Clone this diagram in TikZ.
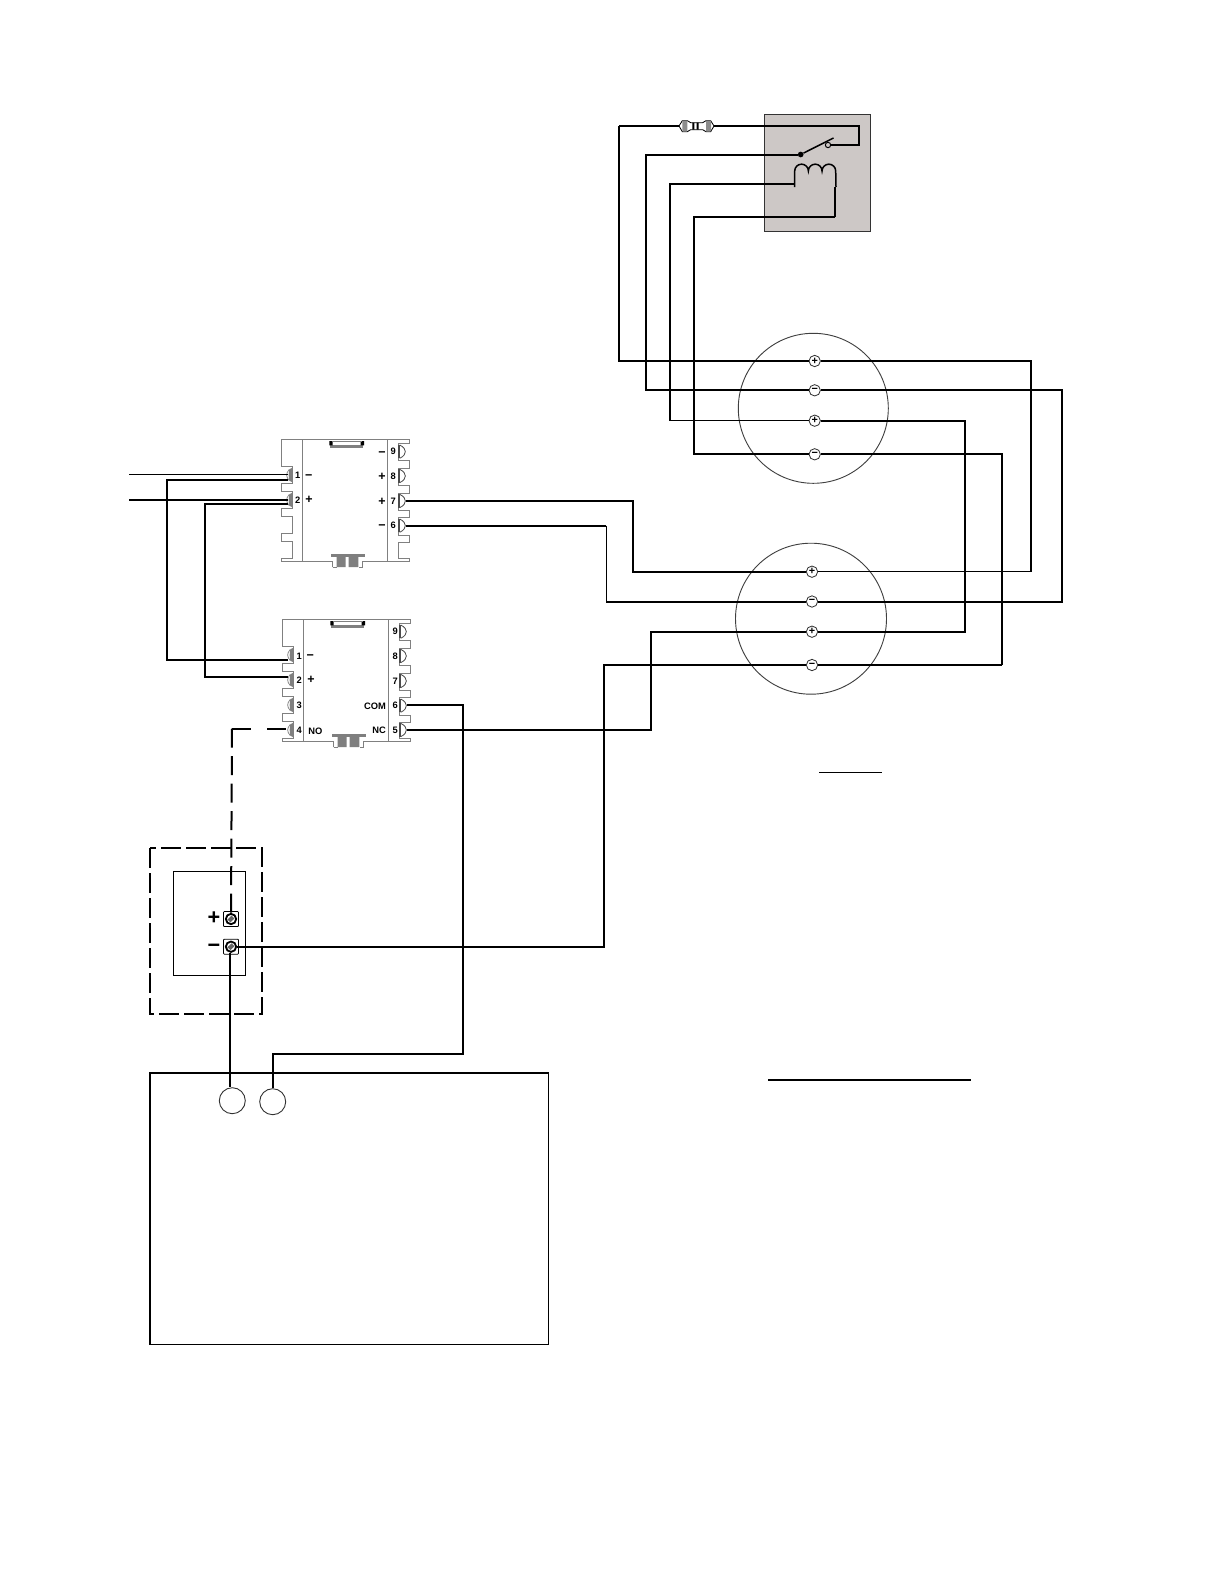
\documentclass[tikz,border=0pt]{standalone}
\usepackage{fontspec}
\setmainfont{Liberation Sans}
\usetikzlibrary{calc}
\definecolor{relayfill}{HTML}{CDC8C6}
\definecolor{blockline}{HTML}{808080}
\definecolor{blockgray}{HTML}{7F7F7F}
\tikzset{
  wire/.style={line width=1.2pt,line cap=butt,line join=miter},
  thinwire/.style={line width=0.65pt,line join=miter},
  dashwire/.style={line width=1.2pt,dash pattern=on 11.4pt off 5.1pt},
  dashgap/.style={line width=1.2pt,dash pattern=on 11.4pt off 9.6pt},
  dashbox/.style={line width=1.2pt,dash pattern=on 12pt off 3pt},
  bigdisc/.style={circle,draw=black!75,line width=0.55pt,minimum size=90pt,inner sep=0pt},
  termdisc/.style={circle,draw=black!80,fill=white,line width=0.5pt,minimum size=6.8pt,inner sep=0pt,font=\fontsize{6.5}{7}\selectfont\bfseries},
  gaugedisc/.style={circle,draw=black!80,line width=0.55pt,minimum size=15.6pt,inner sep=0pt},
  screwnode/.style={circle,draw=black,fill=white,line width=1.1pt,minimum size=6.2pt,inner sep=0pt},
  blk/.style={draw=blockline,line width=0.55pt,line join=miter},
  numlab/.style={inner sep=0pt,font=\fontsize{5.6}{6}\selectfont\bfseries},
  signlab/.style={inner sep=0pt,font=\fontsize{7.5}{8}\selectfont\bfseries},
  biglab/.style={inner sep=0pt,font=\fontsize{13}{14}\selectfont\bfseries},
}
\newcommand{\rightterm}[1]{%
    \draw[black!70,line width=0.5pt] (415,#1-20) -- (415,#1+20) (419,#1-20) -- (419,#1+20);
    \draw[black!70,line width=0.5pt] (419,#1-20) .. controls (432,#1-14) and (436,#1-6) .. (436,#1)
       .. controls (436,#1+6) and (432,#1+14) .. (419,#1+20);
}
% block body in 3x zoom units
\newcommand{\blockbody}{%
  \draw[blk] (65,28) -- (448,28)
    -- (448,40) -- (415,40) -- (415,90) -- (448,90) -- (448,115) -- (415,115)
    -- (415,165) -- (448,165) -- (448,190) -- (415,190) -- (415,240) -- (448,240)
    -- (448,262) -- (415,262) -- (415,315) -- (448,315) -- (448,338) -- (415,338)
    -- (415,385) -- (448,385) -- (448,395) -- (308,395) -- (308,412) -- (296,412)
    (218,412) -- (218,395) -- (65,395) -- (65,385) -- (97,385) -- (97,335) -- (65,335)
    -- (65,310) -- (97,310) -- (97,260) -- (65,260) -- (65,235) -- (97,235) -- (97,185)
    -- (65,185) -- (65,160) -- (97,160) -- (97,110) -- (65,110) -- (65,28);
  \draw[blk] (127,28) -- (127,395) (382,28) -- (382,395);
  % top clip
  \fill[blockgray] (210,46) rectangle (310,53);
  \fill[black] (208,33) rectangle (218,46) (302,33) rectangle (312,46);
  \draw[blk] (215,33) -- (305,33);
  % bottom clip
  \fill[blockgray] (212,373) rectangle (314,381);
  \fill[blockgray] (230,381) rectangle (257,411) (266,381) rectangle (295,411);
  \draw[blk] (218,412) -- (230,412);
  % right terminals
  \rightterm{65}\rightterm{138}\rightterm{213}\rightterm{287}
}
\newcommand{\leftterm}[1]{%
  \fill[blockgray] (97,#1-22) -- (88,#1-17) -- (86,#1) -- (88,#1+17) -- (97,#1+22) -- cycle;
  \draw[black!50,line width=0.45pt] (88,#1-17) .. controls (82,#1-10) and (80,#1-5) .. (80,#1)
     .. controls (80,#1+5) and (82,#1+10) .. (88,#1+17);
}
\newcommand{\screw}[1]{%
  \draw[black,line width=0.5pt,rounded corners=0.5pt,fill=white] ($(#1)+(-7.5,-7.5)$) rectangle ($(#1)+(7.5,7.5)$);
}
\newcommand{\lowminus}{\raisebox{-0.5pt}{−}}
\begin{document}
\begin{tikzpicture}[x=0.6pt,y=-0.6pt]
\useasboundingbox (0,0) rectangle (1224,1584);
\fill[white] (0,0) rectangle (1224,1584);

% ---- relay
\draw[fill=relayfill,draw=black!80,line width=0.6pt] (764.3,114) rectangle (870.7,231.7);
\draw[line width=0.9pt] (794.7,187) -- (794.7,171) arc[start angle=180,end angle=0,radius=4.1pt]
   arc[start angle=180,end angle=0,radius=4.1pt] arc[start angle=180,end angle=0,radius=4.1pt] -- (836,187);
\coordinate (coilL) at (794.7,184);
\coordinate (coilR) at (835,216.7);
\draw[thinwire] (835,187) -- (coilR);
\node[circle,fill=black,minimum size=3.4pt,inner sep=0pt] (swp) at (800.7,154.5) {};
\node[circle,draw=black,line width=0.6pt,minimum size=3.2pt,inner sep=0pt] (swc) at (828,145) {};
\coordinate (swtip) at (833.5,138);
\draw[line width=0.9pt] (swp) -- (swtip);

% ---- resistor
\node[minimum width=21pt,minimum height=8pt,inner sep=0pt] (res) at (696.5,126) {};
\coordinate (resLleadA) at (658,126);
\begin{scope}[shift={(600,100)},x=0.2pt,y=-0.2pt]
  \draw[line width=0.5pt,fill=white] (237,78) -- (247,62) -- (262,62) -- (272,68) -- (308,68) -- (318,62) -- (332,62) -- (342,78)
     -- (332,95) -- (318,95) -- (308,89) -- (272,89) -- (262,95) -- (247,95) -- cycle;
  \fill[black!45] (247,63) rectangle (262,94) (318,63) rectangle (333,94);
  \fill[black] (277,68) rectangle (283,89) (290,68) rectangle (296,89);
\end{scope}

% ---- gauges
\node[bigdisc] (c1) at (813.3,408.3) {};
\node[bigdisc,minimum size=90.6pt] (c2) at (811,618.7) {};

% ---- controllers
\begin{scope}[shift={(260,430)},x=0.2pt,y=-0.2pt]
  \blockbody
  \leftterm{135}\leftterm{210}
  \node[numlab] (aN1) at (113,136) {1};
  \node[numlab] (aN2) at (113,210) {2};
  \node[signlab] (aS1) at (146,140) {−};
  \node[signlab] (aS2) at (147,209) {+};
  \node[numlab] (aN9) at (400,65) {9};
  \node[numlab] (aN8) at (400,138) {8};
  \node[numlab] (aN7) at (400,213) {7};
  \node[numlab] (aN6) at (400,285) {6};
  \node[signlab] (aS9) at (366,71) {−};
  \node[signlab] (aS8) at (366,140) {+};
  \node[signlab] (aS7) at (366,215) {+};
  \node[signlab] (aS6) at (366,292) {−};
\end{scope}
\begin{scope}[shift={(261,610)},x=0.2pt,y=-0.2pt]
  \blockbody
  \rightterm{360}
  \leftterm{135}\leftterm{210}\leftterm{285}\leftterm{360}
  \node[numlab] (bN1) at (115,138) {1};
  \node[numlab] (bN2) at (115,212) {2};
  \node[numlab] (bN3) at (115,287) {3};
  \node[numlab] (bN4) at (115,362) {4};
  \node[signlab] (bS1) at (148,141) {−};
  \node[signlab] (bS2) at (150,210) {+};
  \node[numlab] (bNO) at (163,364) {NO};
  \node[numlab] (bN9) at (403,65) {9};
  \node[numlab] (bN8) at (403,138) {8};
  \node[numlab] (bN7) at (403,213) {7};
  \node[numlab] (bN6) at (403,287) {6};
  \node[numlab] (bN5) at (403,362) {5};
  \node[numlab] (bCOM) at (342,288) {COM};
  \node[numlab] (bNC) at (354,362) {NC};
\end{scope}

% terminal coordinates on the controllers
\coordinate (a1a) at (288,474.7);
\coordinate (a1b) at (288,480);
\coordinate (a2a) at (288,500);
\coordinate (a2b) at (288,504);
\coordinate (a7) at (405.7,501);
\coordinate (a6) at (405.7,525.7);
\coordinate (b1) at (288,660);
\coordinate (b2) at (288,677);
\coordinate (b4) at (288,728.5);
\coordinate (b6) at (406.7,704.7);
\coordinate (b5) at (406.7,729.5);
\coordinate (in1) at (129,474.7);
\coordinate (in2) at (129,500);

% ---- sensor box
\draw[dashbox] (149.7,848) rectangle (262,1013.7);
\draw[line width=0.6pt] (173.7,871.3) rectangle (245.7,975);
\coordinate (sp) at (231,919);
\coordinate (sm) at (231,946.7);
\screw{sp}\screw{sm}
\node[screwnode] (smp) at (sp) {};
\node[screwnode] (smn) at (sm) {};
\draw[line width=0.7pt,black!60] (229,921) -- (233,917) (227.8,920) -- (232,916) (230,922) -- (234,918);
\draw[line width=0.7pt,black!60] (229,948.7) -- (233,944.7) (227.8,947.7) -- (232,943.7) (230,949.7) -- (234,945.7);
\node[biglab] (lp) at (214,918) {+};
\node[biglab] (lm) at (214,948) {−};

% ---- big box with two round terminals
\draw[line width=1.15pt] (150,1072.7) rectangle (548.5,1344.5);
\node[gaugedisc] (g1) at (232.3,1100.7) {};
\node[gaugedisc] (g2) at (272.7,1101.7) {};

% ---- underlines
\coordinate (u1a) at (819,772.3);
\coordinate (u1b) at (882,772.3);
\coordinate (u2a) at (768,1080);
\coordinate (u2b) at (971,1080);
\draw[line width=0.85pt] (u1a) -- (u1b);
\draw[line width=1.25pt] (u2a) -- (u2b);

% ---- routing coordinates
\coordinate (x1) at (619,0);
\coordinate (x2) at (645.7,0);
\coordinate (x3) at (670,0);
\coordinate (x4) at (694,0);
\coordinate (xA) at (1031,0);
\coordinate (xB) at (1061.5,0);
\coordinate (xC) at (964.5,0);
\coordinate (xD) at (1002,0);
\coordinate (x7) at (633,0);
\coordinate (x6) at (606.3,0);
\coordinate (x5) at (651,0);
\coordinate (xS) at (604,0);
\coordinate (xK) at (463,0);
\coordinate (xL1) at (167,0);
\coordinate (xL2) at (205,0);
\coordinate (yK) at (0,1054);
\coordinate (relayE) at (859,126);
\coordinate (relayF) at (859,145);

% ---- gauge terminals
\node[termdisc] (c1a) at (814.7,361) {+};
\node[termdisc] (c1b) at (814.7,390.3) {\lowminus};
\node[termdisc] (c1c) at (814.7,420.7) {+};
\node[termdisc] (c1d) at (814.7,454.3) {\lowminus};
\node[termdisc] (c2a) at (812,571.7) {+};
\node[termdisc] (c2b) at (812,601.5) {\lowminus};
\node[termdisc] (c2c) at (812,631.7) {+};
\node[termdisc] (c2d) at (812,665) {\lowminus};

% ---- relay wires
\draw[wire] (resLleadA) -- (res.west);
\draw[thinwire] (resLleadA) -- (x1 |- resLleadA);
\draw[wire] (x1 |- resLleadA) |- (c1a.west);
\draw[wire] (res.east) -- (relayE) -- (relayF) -- (swc.east);
\draw[wire] (swp.west) -| (x2 |- c1b.west) -- (c1b.west);
\draw[wire] (coilL) -| (x3 |- c1c.west);
\draw[thinwire] (x3 |- c1c.west) -- (c1c.west);
\draw[wire] (coilR) -| (x4 |- c1d.west) -- (c1d.west);

% ---- gauge to gauge
\draw[thinwire] (c2a.east) -- (xA |- c2a.east);
\draw[wire] (c1a.east) -| (xA |- c2a.east);
\draw[wire] (c1b.east) -| (xB |- c2b.east) -- (c2b.east);
\draw[wire] (c1c.east) -| (xC |- c2c.east) -- (c2c.east);
\draw[wire] (c1d.east) -| (xD |- c2d.east);
\draw[thinwire] (xD |- c2d.east) -- (c2d.east);

% ---- controllers to gauge 2
\draw[wire] (a7) -| (x7 |- c2a.west) -- (c2a.west);
\draw[wire] (a6) -- (x6 |- a6);
\draw[thinwire] (x6 |- a6) -- (x6 |- c2b.west);
\draw[wire] (x6 |- c2b.west) -- (c2b.west);
\draw[wire] (b5) -| (x5 |- c2c.west) -- (c2c.west);
\draw[wire] (smn.east) -| (xS |- c2d.west) -- (c2d.west);
\draw[wire] (b6) -| (xK |- yK) -- (g2.north |- yK) -- (g2.north);
\draw[wire] ([xshift=-0.5pt]smn.south) -- ([xshift=-0.5pt]smn.south |- g1.north);

% ---- between controllers
\draw[thinwire] (in1) -- (a1a);
\draw[wire] (in2) -- (a2a);
\draw[wire] (a1b) -| (xL1 |- b1) -- (b1);
\draw[wire] (a2b) -| (xL2 |- b2) -- (b2);

% ---- dashed link
\coordinate (dcorner) at (232,728.5);
\draw[dashgap] (dcorner) -- (b4);
\draw[dashwire] (dcorner) -- (smp.north);
\end{tikzpicture}
\end{document}
